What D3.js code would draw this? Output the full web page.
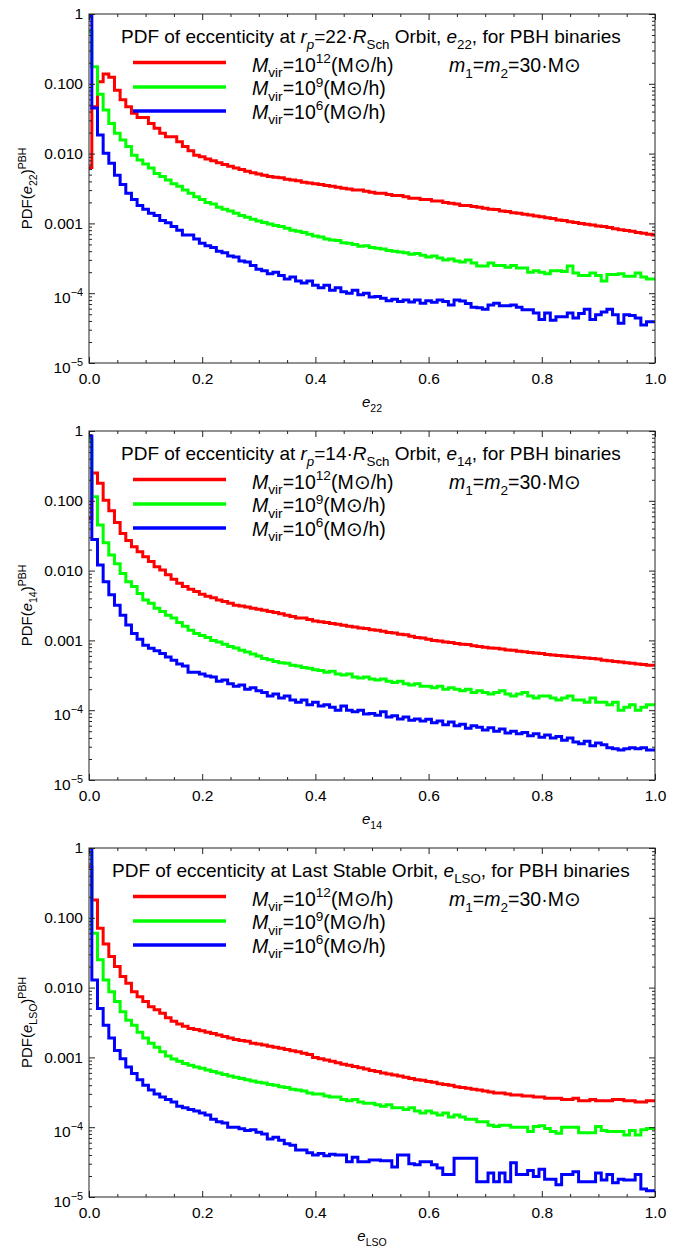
<!DOCTYPE html>
<html>
<head>
<meta charset="utf-8">
<script src="https://cdn.jsdelivr.net/npm/d3@7"></script>
<style>
  body { margin: 0; background: #fff; }
  svg { display: block; }
  text { font-family: "Liberation Sans", Arial, sans-serif; fill: #000; }
</style>
</head>
<body>
<svg id="chart"></svg>
<script>
// bins are centred on e = 0.00, 0.01, ... 1.00 (101 values per series)
const binWidth = 0.01;

// panel 1 : e22
const red22 = [0.0063,0.047,0.107,0.138,0.124,0.081,0.059,0.047,0.038,0.033,
  0.033,0.027,0.023,0.0196,0.0175,0.0175,0.0148,0.0126,0.011,0.0095,
  0.009,0.0084,0.0079,0.0074,0.007,0.0066,0.0062,0.0059,0.0056,0.0053,
  0.0051,0.0049,0.0047,0.0046,0.0045,0.0043,0.0042,0.0041,0.0039,0.0038,
  0.0037,0.0036,0.0035,0.0034,0.0033,0.0032,0.0031,0.003,0.003,0.0029,
  0.0028,0.0027,0.0027,0.0026,0.0025,0.0025,0.0024,0.0023,0.0023,0.0022,
  0.0022,0.0021,0.0021,0.002,0.00195,0.0019,0.0018,0.0018,0.00175,0.0017,
  0.00165,0.0016,0.00158,0.0015,0.00148,0.00142,0.0014,0.00135,0.00132,0.00128,
  0.00125,0.0012,0.00118,0.00112,0.0011,0.00106,0.00103,0.001,0.00097,0.00095,
  0.00092,0.0009,0.00087,0.00084,0.00081,0.00079,0.00077,0.00074,0.00072,0.0007,
  0.00068];
const green22 = [0.557,0.176,0.071,0.042,0.027,0.0195,0.0157,0.0126,0.0095,0.0081,
  0.0071,0.0062,0.0052,0.0047,0.0042,0.0037,0.0034,0.003,0.0027,0.0024,
  0.0022,0.002,0.0019,0.0017,0.0016,0.0015,0.0014,0.0013,0.00122,0.00115,
  0.00108,0.00103,0.00098,0.00093,0.0009,0.00085,0.0008,0.00077,0.00074,0.0007,
  0.00066,0.00064,0.0006,0.00058,0.00057,0.00053,0.00052,0.0005,0.00047,0.00048,
  0.00045,0.00044,0.00043,0.00041,0.0004,0.00039,0.00038,0.00036,0.00037,0.00035,
  0.00033,0.00034,0.00032,0.0003,0.00031,0.00029,0.00028,0.0003,0.00027,0.000245,
  0.000245,0.00027,0.00025,0.00025,0.000235,0.00025,0.00023,0.00023,0.0002,0.00021,
  0.0002,0.00019,0.00021,0.00021,0.000205,0.000245,0.000195,0.00018,0.00018,0.000195,
  0.00018,0.00015,0.000185,0.000185,0.00019,0.000175,0.000175,0.000195,0.00017,0.00016,
  0.00016];
const blue22 = [0.95,0.045,0.0185,0.0101,0.0073,0.0049,0.0036,0.0027,0.0022,0.0018,
  0.0016,0.0014,0.0013,0.0011,0.00102,0.0009,0.0008,0.00068,0.00068,0.0006,
  0.00052,0.00048,0.00045,0.0004,0.00038,0.00034,0.00033,0.00029,0.00028,0.00025,
  0.00022,0.00021,0.00019,0.0002,0.00018,0.00016,0.00017,0.00015,0.00014,0.00015,
  0.00013,0.00012,0.00013,0.00011,0.00012,0.000105,0.0001,0.00011,0.000095,0.0001,
  0.000088,0.00009,0.000085,0.000078,0.000082,0.000076,0.00008,0.000075,0.00008,0.000072,
  0.000078,0.000074,0.00008,0.000076,0.000068,0.00008,0.000077,0.000071,0.000063,0.000062,
  0.000059,0.000068,0.000072,0.000066,0.000066,0.000068,0.000063,0.000058,0.000058,0.000052,
  0.000042,0.000052,0.000041,0.000046,0.000046,0.000052,0.000044,0.000051,0.000059,0.000042,
  0.000049,0.000054,0.000059,0.000049,0.000037,0.000049,0.000048,0.000044,0.000035,0.000039,
  0.000039];

// panel 2 : e14
const red14 = [0.056,0.25,0.178,0.102,0.072,0.049,0.034,0.027,0.022,0.0187,
  0.0158,0.0135,0.0114,0.0102,0.0087,0.0075,0.0066,0.0059,0.0054,0.005,
  0.0046,0.0043,0.0041,0.0038,0.0036,0.0034,0.0032,0.0031,0.003,0.0029,
  0.0028,0.0027,0.0026,0.0025,0.0024,0.0023,0.0022,0.0021,0.0021,0.002,
  0.0019,0.00185,0.0018,0.00175,0.0017,0.00165,0.0016,0.00155,0.0015,0.00148,
  0.00142,0.0014,0.00135,0.0013,0.00128,0.00122,0.0012,0.00115,0.0011,0.00108,
  0.00104,0.001,0.00098,0.00095,0.00093,0.0009,0.00088,0.00087,0.00084,0.00082,
  0.0008,0.00078,0.00077,0.00075,0.00073,0.00072,0.0007,0.00069,0.00067,0.00066,
  0.00065,0.00063,0.00062,0.00061,0.0006,0.00059,0.00058,0.00057,0.00056,0.00055,
  0.00054,0.00052,0.00051,0.0005,0.00049,0.00048,0.00047,0.00046,0.00045,0.00044,
  0.00044];
const green14 = [0.74,0.114,0.045,0.025,0.0167,0.0125,0.0091,0.0069,0.0059,0.0047,
  0.0038,0.0034,0.0029,0.0026,0.0023,0.0021,0.0018,0.0016,0.0014,0.00126,
  0.00118,0.0011,0.001,0.00095,0.00088,0.00082,0.00078,0.00072,0.00068,0.00064,
  0.0006,0.00055,0.00053,0.0005,0.00048,0.00047,0.00044,0.00043,0.00041,0.0004,
  0.00038,0.00037,0.00035,0.00036,0.00033,0.00032,0.00033,0.0003,0.00029,0.0003,
  0.00028,0.00027,0.00028,0.00026,0.00025,0.00026,0.00024,0.00023,0.00024,0.00022,
  0.00022,0.00021,0.00022,0.0002,0.00021,0.0002,0.00019,0.0002,0.00018,0.00019,
  0.00018,0.00017,0.00018,0.00019,0.00017,0.00016,0.00017,0.00018,0.00016,0.00015,
  0.00016,0.00016,0.00015,0.00014,0.00015,0.00016,0.00014,0.00014,0.00013,0.00015,
  0.00013,0.00013,0.00012,0.00013,0.0001,0.00011,0.00012,0.0001,0.00011,0.00012,
  0.00012];
const blue14 = [0.85,0.028,0.012,0.0069,0.0045,0.0032,0.0023,0.00166,0.00126,0.00104,
  0.00085,0.00077,0.00071,0.00065,0.00058,0.00052,0.00046,0.00043,0.00035,0.00035,
  0.00033,0.00031,0.0003,0.00026,0.00027,0.00024,0.00022,0.00023,0.0002,0.00021,
  0.00019,0.00018,0.00016,0.00017,0.00015,0.00016,0.00014,0.00013,0.00014,0.00012,
  0.00013,0.000115,0.00012,0.00011,0.0001,0.000115,0.0001,0.000095,0.0001,0.000088,
  0.00009,0.000085,0.000095,0.00008,0.000083,0.000075,0.00008,0.000072,0.000075,0.00007,
  0.000074,0.000066,0.00007,0.000062,0.000068,0.00006,0.000063,0.000055,0.00006,0.000057,
  0.000052,0.000056,0.00005,0.000054,0.000047,0.00005,0.000046,0.000048,0.000043,0.000046,
  0.000041,0.000044,0.00004,0.000042,0.000037,0.00004,0.000035,0.000033,0.000036,0.000031,
  0.000034,0.000032,0.000029,0.000028,0.000027,0.000028,0.000029,0.000028,0.000029,0.000027,
  0.000027];

// panel 3 : eLSO
const redLSO = [0.54,0.18,0.071,0.042,0.028,0.02,0.0144,0.0115,0.0087,0.0074,
  0.0063,0.0053,0.0048,0.0043,0.0037,0.0033,0.003,0.0028,0.0026,0.0025,
  0.0024,0.0023,0.0022,0.0021,0.002,0.0019,0.0018,0.00175,0.0017,0.0016,
  0.00155,0.0015,0.00145,0.0014,0.00135,0.0013,0.00125,0.0012,0.00115,0.0011,
  0.001,0.00096,0.00092,0.00088,0.00084,0.0008,0.00077,0.00074,0.00071,0.00068,
  0.00065,0.00063,0.0006,0.00058,0.00056,0.00054,0.00052,0.0005,0.00048,0.00047,
  0.00045,0.00044,0.00042,0.00041,0.0004,0.00038,0.00037,0.00036,0.00035,0.00034,
  0.00033,0.00032,0.00031,0.00031,0.0003,0.00029,0.00029,0.00028,0.00028,0.00027,
  0.00027,0.00026,0.00026,0.00026,0.00025,0.00025,0.00026,0.00024,0.00024,0.00025,
  0.00024,0.00024,0.00024,0.00025,0.00025,0.00024,0.00024,0.00023,0.00023,0.00024,
  0.00024];
const greenLSO = [0.85,0.06,0.025,0.0129,0.0087,0.0063,0.0045,0.0034,0.0029,0.0023,
  0.0019,0.0016,0.0014,0.0012,0.00105,0.00095,0.00088,0.00082,0.00077,0.00073,
  0.0007,0.00066,0.00063,0.0006,0.00057,0.00054,0.00052,0.0005,0.00048,0.00046,
  0.00044,0.00043,0.00041,0.0004,0.00038,0.00037,0.00035,0.00034,0.00033,0.00031,
  0.0003,0.0003,0.00028,0.00027,0.00027,0.00025,0.00024,0.00025,0.00023,0.00022,
  0.00022,0.00021,0.0002,0.00021,0.00019,0.00019,0.00018,0.00019,0.00017,0.00016,
  0.00017,0.00016,0.00015,0.00016,0.00014,0.00015,0.00014,0.00013,0.00013,0.00012,
  0.00012,0.000107,0.000102,0.000107,0.000107,0.0001,0.0001,0.0001,0.000087,0.000102,
  0.000105,0.000096,0.000087,0.000082,0.0001,0.0001,0.0001,0.000083,0.000083,0.000083,
  0.000102,0.00009,0.000087,0.000087,0.000087,0.000077,0.00009,0.000077,0.000092,0.000096,
  0.000096];
const blueLSO = [1.0,0.0129,0.005,0.0029,0.0019,0.00126,0.00096,0.00073,0.00059,0.00048,
  0.0004,0.00034,0.0003,0.00027,0.00025,0.00023,0.0002,0.00019,0.00018,0.00017,
  0.00016,0.00015,0.00013,0.00012,0.000115,0.0001,0.0001,0.000095,0.00009,0.000092,
  0.000085,0.00008,0.000068,0.000072,0.000065,0.000058,0.000055,0.000047,0.000047,0.000043,
  0.00004,0.000042,0.000039,0.000041,0.00004,0.00004,0.000032,0.000037,0.000032,0.000032,
  0.000034,0.000034,0.000033,0.000033,0.000027,0.00004,0.00004,0.00003,0.000029,0.000032,
  0.000032,0.000029,0.000026,0.000021,0.000021,0.000036,0.000036,0.000036,0.000036,0.0000166,
  0.0000166,0.000022,0.0000166,0.000022,0.0000166,0.000031,0.000021,0.000021,0.000024,0.0000196,
  0.000025,0.000018,0.000018,0.000015,0.000021,0.000021,0.000023,0.0000166,0.0000166,0.0000166,
  0.000022,0.0000175,0.000021,0.000016,0.000018,0.0000175,0.0000175,0.000021,0.000013,0.0000123,
  0.0000123];

const seriesColors = ["#ff0000", "#00ff00", "#0000ff"];
const legendPowers = ["12", "9", "6"];
const xMajor = [0, 0.2, 0.4, 0.6, 0.8, 1.0];
const yMajor = [1, 0.1, 0.01, 0.001, 1e-4, 1e-5];
const yMajorLabels = ["1", "0.100", "0.010", "0.001", "10^-4", "10^-5"];

const W = 683, H = 1249;
const left = 89, right = 655, plotH = 349;

const svg = d3.select("#chart").attr("width", W).attr("height", H);

// writes a mixed italic / sub / super string into a text element
function rich(sel, parts, fs) {
  let cur = 0;
  parts.forEach(p => {
    const txt = typeof p === "string" ? p : p[0];
    const st = typeof p === "string" ? "" : p[1];
    const off = st.includes("_") ? 0.3 * fs : st.includes("^") ? -0.42 * fs : 0;
    const ts = sel.append("tspan").text(txt);
    if (off !== cur) ts.attr("dy", off - cur);
    cur = off;
    if (st.includes("i")) ts.attr("font-style", "italic");
    if (st.includes("_") || st.includes("^")) ts.attr("font-size", fs * 0.7);
  });
}

const panels = [
  { top: 14, data: [red22, green22, blue22], titleX: 121,
    title: ["PDF of eccenticity at ", ["r", "i"], ["p", "i_"], "=22·", ["R", "i"], ["Sch", "_"], " Orbit, ", ["e", "i"], ["22", "_"], ", for PBH binaries"],
    sub: "22" },
  { top: 431, data: [red14, green14, blue14], titleX: 121,
    title: ["PDF of eccenticity at ", ["r", "i"], ["p", "i_"], "=14·", ["R", "i"], ["Sch", "_"], " Orbit, ", ["e", "i"], ["14", "_"], ", for PBH binaries"],
    sub: "14" },
  { top: 848, data: [redLSO, greenLSO, blueLSO], titleX: 112,
    title: ["PDF of eccenticity at Last Stable Orbit, ", ["e", "i"], ["LSO", "_"], ", for PBH binaries"],
    sub: "LSO" }
];

panels.forEach((p, pi) => {
  const top = p.top, bottom = top + plotH;
  const x = d3.scaleLinear().domain([0, 1]).range([left, right]);
  const y = d3.scaleLog().domain([1e-5, 1]).range([bottom, top]);
  const g = svg.append("g");

  const clipId = "clip" + pi;
  g.append("clipPath").attr("id", clipId)
    .append("rect").attr("x", left).attr("y", top).attr("width", right - left).attr("height", plotH);

  // histogram curves, centred steps
  const line = d3.line()
    .x((d, i) => x(i * binWidth))
    .y(d => y(d))
    .curve(d3.curveStep);
  const curves = g.append("g").attr("clip-path", `url(#${clipId})`);
  p.data.forEach((vals, si) => {
    curves.append("path")
      .attr("d", line(vals))
      .attr("fill", "none")
      .attr("stroke", seriesColors[si])
      .attr("stroke-width", 3)
      .attr("stroke-linejoin", "miter");
  });

  // axes: ticks point inwards on all four sides
  const xMinor = d3.range(0, 1.0001, 0.05).filter(v => !xMajor.some(m => Math.abs(m - v) < 1e-6));
  const yMinor = [];
  [1e-5, 1e-4, 1e-3, 1e-2, 1e-1].forEach(d => { for (let m = 2; m <= 9; m++) yMinor.push(d * m); });

  const axisStyle = sel => {
    sel.select(".domain").remove();
    sel.selectAll("line").attr("stroke", "#222");
    sel.selectAll("text").attr("font-size", 15.5).attr("fill", "#000");
  };

  g.append("g").attr("transform", `translate(0,${bottom})`)
    .call(d3.axisBottom(x).tickValues(xMajor).tickSize(-6).tickPadding(10).tickFormat(d3.format(".1f")))
    .call(axisStyle);
  g.append("g").attr("transform", `translate(0,${bottom})`)
    .call(d3.axisBottom(x).tickValues(xMinor).tickSize(-3).tickFormat(""))
    .call(axisStyle);
  g.append("g").attr("transform", `translate(0,${top})`)
    .call(d3.axisTop(x).tickValues(xMajor).tickSize(-6).tickFormat(""))
    .call(axisStyle);
  g.append("g").attr("transform", `translate(0,${top})`)
    .call(d3.axisTop(x).tickValues(xMinor).tickSize(-3).tickFormat(""))
    .call(axisStyle);

  const yAx = g.append("g").attr("transform", `translate(${left},0)`)
    .call(d3.axisLeft(y).tickValues(yMajor).tickSize(-6).tickPadding(6).tickFormat(""))
    .call(axisStyle);
  yAx.selectAll(".tick text").each(function(d, i) {
    const t = d3.select(this);
    const lab = yMajorLabels[i];
    if (lab.includes("^")) {
      const [b, e] = lab.split("^");
      rich(t, [b, [e.replace("-", "\u2212"), "^"]], 15.5);
      t.attr("dy", "0.6em");
    } else {
      t.text(lab);
    }
  });
  g.append("g").attr("transform", `translate(${left},0)`)
    .call(d3.axisLeft(y).tickValues(yMinor).tickSize(-3).tickFormat(""))
    .call(axisStyle);
  g.append("g").attr("transform", `translate(${right},0)`)
    .call(d3.axisRight(y).tickValues(yMajor).tickSize(-6).tickFormat(""))
    .call(axisStyle);
  g.append("g").attr("transform", `translate(${right},0)`)
    .call(d3.axisRight(y).tickValues(yMinor).tickSize(-3).tickFormat(""))
    .call(axisStyle);

  // frame
  g.append("rect").attr("x", left).attr("y", top).attr("width", right - left).attr("height", plotH)
    .attr("fill", "none").attr("stroke", "#222").attr("stroke-width", 1);

  // title inside the plot
  rich(g.append("text").attr("x", p.titleX).attr("y", top + 29).attr("font-size", 19), p.title, 19);

  // legend
  const lineY = [48.5, 73, 97];
  const labY = [57.5, 81, 104.5];
  seriesColors.forEach((c, si) => {
    g.append("line").attr("x1", 133).attr("x2", 226)
      .attr("y1", top + lineY[si]).attr("y2", top + lineY[si])
      .attr("stroke", c).attr("stroke-width", 3.5);
    rich(g.append("text").attr("x", 252).attr("y", top + labY[si]).attr("font-size", 19.5),
      [["M", "i"], ["vir", "_"], "=10", [legendPowers[si], "^"], "(M\u2299/h)"], 19.5);
  });
  rich(g.append("text").attr("x", 449).attr("y", top + 58).attr("font-size", 19.5),
    [["m", "i"], ["1", "_"], "=", ["m", "i"], ["2", "_"], "=30·M\u2299"], 19.5);

  // axis labels
  rich(g.append("text").attr("x", (left + right) / 2).attr("y", bottom + 44)
    .attr("text-anchor", "middle").attr("font-size", 15),
    [["e", "i"], [p.sub, "_"]], 15);
  rich(g.append("text")
    .attr("transform", `translate(32,${(top + bottom) / 2}) rotate(-90)`)
    .attr("text-anchor", "middle").attr("font-size", 15),
    ["PDF(", ["e", "i"], [p.sub, "_"], ")", ["PBH", "^"]], 15);
});
</script>
</body>
</html>
